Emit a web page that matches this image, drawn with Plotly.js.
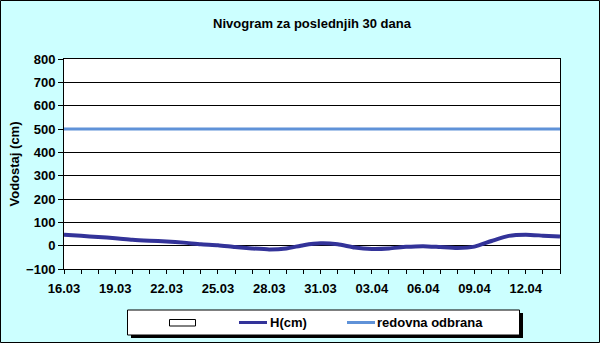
<!DOCTYPE html>
<html><head><meta charset="utf-8">
<script src="https://cdn.plot.ly/plotly-3.0.1.min.js"></script>
<style>html,body{margin:0;padding:0;}#c{width:600px;height:343px;}</style>
</head><body><div id="c"></div>
<script>
const dates = ["16.03","17.03","18.03","19.03","20.03","21.03","22.03","23.03","24.03","25.03","26.03","27.03","28.03","29.03","30.03","31.03","01.04","02.04","03.04","04.04","05.04","06.04","07.04","08.04","09.04","10.04","11.04","12.04","13.04","14.04"];
const levels = [47,42,37,32,25,21,18,13,6,2,-6,-12,-16,-12,2,10,6,-8,-14,-12,-5,-2,-6,-10,-4,20,42,47,43,39];
const redovna = 500;
const labelEvery = 3;
const seriesNames = ["H(cm)", "redovna odbrana"];
const seriesColors = ["#333399", "#5F92D8"];

const tickText = dates.map((d,i)=> i%labelEvery===0 ? d : "");
const FAM = "Liberation Sans, Arial, sans-serif";

// plot-area geometry (pixels) used to place the hand-drawn legend in paper coords
const W=600, H=343, L=64, R=40, T=59, B=74;
const pw = W-L-R, ph = H-T-B;
const px = v => (v-L)/pw;
const py = v => (H-B-v)/ph;

const traces = [
  {x:dates, y:levels, type:"scatter", mode:"lines", name:seriesNames[0],
   line:{color:seriesColors[0], width:4, shape:"spline", smoothing:0.6}},
  {x:dates, y:dates.map(()=>redovna), type:"scatter", mode:"lines", name:seriesNames[1],
   line:{color:seriesColors[1], width:3}}
];

const shapes = [
  {type:"rect", xref:"paper", yref:"paper", x0:px(0.5), x1:px(W-0.5), y0:py(0.5), y1:py(H-0.5),
   line:{color:"#000", width:1}, fillcolor:"rgba(0,0,0,0)", layer:"above"},
  {type:"rect", xref:"paper", yref:"paper", x0:px(131), x1:px(523), y0:py(313), y1:py(338),
   line:{width:0}, fillcolor:"#000", layer:"above"},
  {type:"rect", xref:"paper", yref:"paper", x0:px(127.5), x1:px(519.5), y0:py(310), y1:py(335),
   line:{color:"#000", width:1}, fillcolor:"#fff", layer:"above"},
  {type:"rect", xref:"paper", yref:"paper", x0:px(169.5), x1:px(195.5), y0:py(319.5), y1:py(326),
   line:{color:"#000", width:1}, fillcolor:"#fff", layer:"above"},
  {type:"line", xref:"paper", yref:"paper", x0:px(239), x1:px(267), y0:py(322.5), y1:py(322.5),
   line:{color:seriesColors[0], width:3}, layer:"above"},
  {type:"line", xref:"paper", yref:"paper", x0:px(347), x1:px(375), y0:py(322.5), y1:py(322.5),
   line:{color:seriesColors[1], width:3}, layer:"above"}
];

const annotations = [
  {xref:"paper", yref:"paper", x:px(267.5), y:py(322.5), xanchor:"left", yanchor:"middle", showarrow:false,
   text:"<b>"+seriesNames[0]+"</b>", font:{family:FAM, size:13, color:"#000"}},
  {xref:"paper", yref:"paper", x:px(374.5), y:py(322.5), xanchor:"left", yanchor:"middle", showarrow:false,
   text:"<b>"+seriesNames[1]+"</b>", font:{family:FAM, size:13, color:"#000"}}
];

const layout = {
  width:W, height:H,
  paper_bgcolor:"#CCFFFF", plot_bgcolor:"#ffffff",
  margin:{l:L, r:R, t:T, b:B},
  font:{family:FAM, size:12, color:"#000"},
  title:{text:"<b>Nivogram za poslednjih 30 dana</b>", x:312/W, xanchor:"center", y:1-23/H, yanchor:"middle",
         font:{family:FAM, size:13, color:"#000"}},
  xaxis:{type:"category", range:[0, dates.length-1], tickvals:dates, ticktext:tickText,
         ticks:"outside", ticklen:4, tickcolor:"#000", showgrid:false, zeroline:false,
         showline:true, linecolor:"#000", linewidth:1, mirror:true, ticklabelstandoff:3,
         tickfont:{family:FAM, size:13, color:"#000", weight:"bold"}, tickangle:0},
  yaxis:{range:[-100,800], dtick:100, tick0:0, ticks:"outside", ticklen:5, tickcolor:"#000",
         showgrid:true, gridcolor:"#000", gridwidth:1, zeroline:false,
         showline:true, linecolor:"#000", linewidth:1, mirror:true,
         tickfont:{family:FAM, size:13, color:"#000", weight:"bold"},
         title:{text:"<b>Vodostaj (cm)</b>", standoff:3, font:{family:FAM, size:13, color:"#000"}}},
  showlegend:false,
  shapes:shapes,
  annotations:annotations
};
Plotly.newPlot("c", traces, layout, {displayModeBar:false, staticPlot:true});
</script></body></html>
